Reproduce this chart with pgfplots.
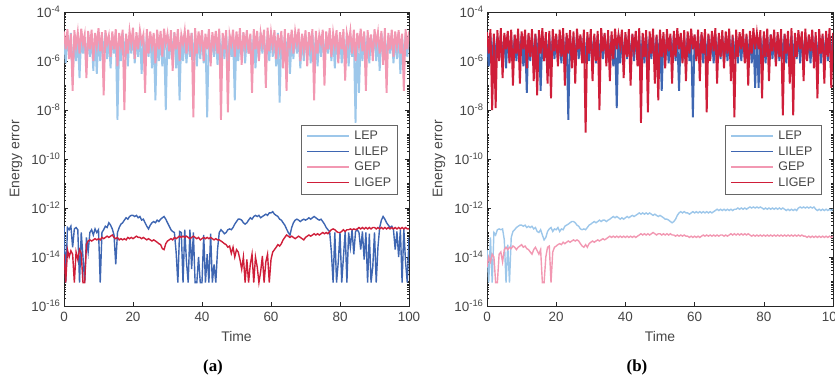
\documentclass[border=0pt]{standalone}
\usepackage{fontspec}
\setmainfont{Liberation Sans}
\newfontfamily\serifbf{Liberation Serif}
\usepackage{pgfplots}
\usepackage{pgfplotstable}
\pgfplotsset{compat=1.18}
\definecolor{cLEP}{RGB}{157,199,234}
\definecolor{cLILEP}{RGB}{62,102,178}
\definecolor{cGEP}{RGB}{242,152,178}
\definecolor{cLIGEP}{RGB}{207,30,57}
\definecolor{axgray}{RGB}{38,38,38}
\definecolor{txtgray}{RGB}{70,70,70}

\pgfplotstableread{
x lep lilep gep ligep
0 1.2e-5 1.8e-13 1.6e-5 1.3e-14
0.5 8e-7 9e-16 3e-6 9e-16
1 9e-6 1.6e-13 2.0e-5 2e-14
1.5 2e-6 1.3e-13 1.2e-6 1e-14
2 1.4e-5 1.8e-13 1.3e-5 1.8e-14
2.5 1.5e-7 2.5e-14 6e-8 1.3e-14
3 1e-5 1.4e-13 1.8e-5 9e-16
3.5 1e-6 1.6e-13 4e-6 1.6e-14
4 1.1e-5 1.3e-13 1.5e-5 7.9e-15
4.5 2e-7 9e-16 2e-6 2e-14
5 1.2e-5 1e-13 2.1e-5 1.4e-14
5.5 2e-6 1e-14 5e-6 9e-16
6 9e-6 9e-16 1.2e-5 9e-16
6.5 6e-7 6.3e-14 2e-7 3.2e-14
7 1.4e-5 1.6e-14 1.7e-5 4.5e-14
7.5 1.5e-6 1e-13 3e-6 5e-14
8 1e-5 1.3e-13 1.9e-5 4.5e-14
8.5 4e-7 7.9e-14 1e-6 5e-14
9 1.1e-5 1.4e-13 1.4e-5 5.6e-14
9.5 3e-7 1e-13 4e-6 5e-14
10 1.2e-5 1.3e-13 2.2e-5 5.6e-14
10.5 1e-6 9e-16 2.5e-6 5e-14
11 9e-6 1e-13 1.5e-5 6.3e-14
11.5 2e-6 1.3e-13 4e-8 5.6e-14
12 1.4e-5 1.8e-13 1.8e-5 6.3e-14
12.5 1.2e-6 1.6e-13 5e-6 7.1e-14
13 1e-5 2.5e-13 1.1e-5 6.3e-14
13.5 5e-7 2e-13 1.5e-6 7.1e-14
14 1.1e-5 1.4e-13 1.6e-5 7.9e-14
14.5 2e-6 7.9e-14 3e-6 6.3e-14
15 1.2e-5 5e-15 2.0e-5 5.6e-14
15.5 4e-9 1e-13 6e-7 6.3e-14
16 9e-6 1.6e-13 1.4e-5 5e-14
16.5 1e-6 2.2e-13 4e-6 5.6e-14
17 1.4e-5 2.5e-13 1.9e-5 5e-14
17.5 1.5e-6 3.2e-13 1e-8 5.6e-14
18 1e-5 4e-13 1.3e-5 5e-14
18.5 6e-7 3.5e-13 2e-6 6.3e-14
19 1.1e-5 4.5e-13 1.7e-5 5.6e-14
19.5 2e-6 5e-13 5e-6 6.3e-14
20 1.2e-5 5e-13 2.3e-5 5.6e-14
20.5 8e-7 4.5e-13 1.2e-6 6.3e-14
21 9e-6 5e-13 1.5e-5 7.1e-14
21.5 1.5e-6 4e-13 3e-6 6.3e-14
22 1.4e-5 4.5e-13 1.8e-5 6.3e-14
22.5 3e-7 3.2e-13 6e-6 5.6e-14
23 1e-5 3.5e-13 1.2e-5 6.3e-14
23.5 1e-6 2.5e-13 5e-8 5.6e-14
24 1.1e-5 1.8e-13 2.0e-5 5e-14
24.5 1.5e-6 1.4e-13 2e-6 5.6e-14
25 1.2e-5 2e-13 1.6e-5 5e-14
25.5 5e-7 2.5e-13 4e-6 4.5e-14
26 9e-6 2.8e-13 1.4e-5 5e-14
26.5 2.5e-8 2.5e-13 8e-7 4.5e-14
27 1.4e-5 3.2e-13 1.9e-5 4e-14
27.5 1e-6 2.8e-13 3e-6 3.5e-14
28 1e-5 3.5e-13 1.7e-5 3.2e-14
28.5 6e-7 4e-13 1.5e-6 2.2e-14
29 1.1e-5 4.5e-13 2.1e-5 2e-14
29.5 1e-8 3.5e-13 5e-6 3.5e-14
30 1.2e-5 2.5e-13 1.3e-5 4.5e-14
30.5 1.2e-6 1.8e-13 2.5e-6 5e-14
31 9e-6 1.3e-13 1.8e-5 5.6e-14
31.5 2e-6 1.1e-13 4e-7 5e-14
32 1.4e-5 1e-13 1.5e-5 6.3e-14
32.5 5e-7 1.6e-14 3e-6 5.6e-14
33 1e-5 9e-16 2.0e-5 6.3e-14
33.5 2.5e-8 1.1e-13 1e-6 7.1e-14
34 1.1e-5 1e-13 1.2e-5 6.3e-14
34.5 1e-6 9e-16 5e-6 7.1e-14
35 1.2e-5 1.3e-13 1.7e-5 6.3e-14
35.5 8e-7 6.3e-15 2e-6 7.1e-14
36 9e-6 9e-16 1.9e-5 6.3e-14
36.5 1.5e-6 1.3e-13 3.5e-6 5.6e-14
37 1.4e-5 3.2e-15 1.4e-5 6.3e-14
37.5 1e-6 1e-13 5e-9 7.1e-14
38 1e-5 9e-16 2.2e-5 6.3e-14
38.5 6e-7 9e-16 2e-6 5.6e-14
39 1.1e-5 1e-14 1.6e-5 6.3e-14
39.5 1.2e-6 9e-16 4e-6 5e-14
40 1.2e-5 9e-16 1.8e-5 5.6e-14
40.5 8e-7 7.9e-14 1e-6 6.3e-14
41 9e-6 9e-16 1.3e-5 5.6e-14
41.5 5e-9 1.3e-14 3e-6 6.3e-14
42 1.4e-5 9e-16 2.0e-5 5.6e-14
42.5 1e-6 8.9e-14 6e-7 6.3e-14
43 1e-5 9e-16 1.5e-5 5.6e-14
43.5 1.5e-6 5e-15 4e-6 5e-14
44 1.1e-5 9e-16 1.7e-5 5.6e-14
44.5 7e-7 2e-14 2e-6 5e-14
45 1.2e-5 1e-13 2.1e-5 5e-14
45.5 1e-6 1.3e-13 4e-9 4.5e-14
46 9e-6 1.1e-13 1.4e-5 4e-14
46.5 1.2e-6 8.9e-14 3e-6 3.5e-14
47 1.4e-5 1e-13 1.8e-5 3.2e-14
47.5 6e-7 1.3e-13 8e-9 2.5e-14
48 1e-5 1.4e-13 1.2e-5 2.8e-14
48.5 1.5e-6 1.3e-13 5e-6 1.4e-14
49 1.1e-5 1.6e-13 1.9e-5 2.5e-14
49.5 2.5e-8 2.2e-13 1.5e-6 1e-14
50 1.2e-5 2.8e-13 1.6e-5 2e-14
50.5 1e-6 3.5e-13 3e-6 1.6e-14
51 9e-6 3.5e-13 2.2e-5 7.9e-15
51.5 1.5e-6 3.2e-13 7e-7 3.2e-15
52 1.4e-5 2.5e-13 1.5e-5 1e-14
52.5 8e-7 2.2e-13 4e-6 9e-16
53 1e-5 2.5e-13 1.8e-5 7.9e-15
53.5 2e-6 3.2e-13 2e-6 9e-16
54 1.1e-5 4e-13 1.3e-5 5e-15
54.5 1e-6 3.5e-13 5e-8 1.3e-14
55 1.2e-5 4.5e-13 2.0e-5 9e-16
55.5 5e-7 5e-13 3e-6 1e-14
56 9e-6 4.5e-13 1.7e-5 4e-15
56.5 1.2e-6 5e-13 1e-6 9e-16
57 1.4e-5 4e-13 1.4e-5 2.5e-15
57.5 2e-6 4.5e-13 5e-6 1.1e-14
58 1e-5 5e-13 1.9e-5 9e-16
58.5 9e-7 5.6e-13 8e-8 6.3e-15
59 1.1e-5 5e-13 2.3e-5 1.3e-14
59.5 1e-6 6.3e-13 2.5e-6 9e-16
60 1.2e-5 6.3e-13 1.5e-5 7.9e-15
60.5 1.5e-6 7.1e-13 4e-6 1.6e-14
61 9e-6 5.6e-13 1.8e-5 2e-14
61.5 6e-7 5e-13 1.2e-6 2.5e-14
62 1.4e-5 4.5e-13 1.2e-5 3.2e-14
62.5 2e-8 3.5e-13 3e-6 2.8e-14
63 1e-5 3.2e-13 1.7e-5 3.5e-14
63.5 1e-6 2.5e-13 5e-7 5e-14
64 1.1e-5 2e-13 2.0e-5 6.3e-14
64.5 1.5e-6 1.4e-13 6e-8 7.9e-14
65 1.2e-5 1e-13 1.4e-5 7.1e-14
65.5 3e-7 7.9e-14 4e-6 6.3e-14
66 9e-6 1.6e-13 1.9e-5 7.1e-14
66.5 1.2e-6 2.5e-13 2e-6 6.3e-14
67 1.4e-5 3.2e-13 1.6e-5 5.6e-14
67.5 2e-6 3.5e-13 5e-6 6.3e-14
68 1e-5 3.2e-13 2.1e-5 7.1e-14
68.5 5e-7 2.8e-13 1e-6 6.3e-14
69 1.1e-5 3.2e-13 1.3e-5 5.6e-14
69.5 1e-6 3.5e-13 3e-6 5e-14
70 1.2e-5 3.2e-13 1.8e-5 6.3e-14
70.5 1.5e-6 3.5e-13 6e-7 7.1e-14
71 9e-6 4e-13 1.5e-5 7.9e-14
71.5 8e-7 3.5e-13 4e-6 7.1e-14
72 1.4e-5 4e-13 2.0e-5 7.9e-14
72.5 1e-6 4.5e-13 2.5e-8 8.9e-14
73 1e-5 4e-13 1.7e-5 7.9e-14
73.5 6e-7 3.5e-13 2e-6 8.9e-14
74 1.1e-5 3.2e-13 1.2e-5 7.9e-14
74.5 1.5e-6 3.5e-13 5e-6 8.9e-14
75 1.2e-5 2.8e-13 1.9e-5 1e-13
75.5 1e-6 2.2e-13 1e-7 8.9e-14
76 9e-6 1.6e-13 1.6e-5 1e-13
76.5 2e-6 1.3e-13 3e-6 8.9e-14
77 1.4e-5 1.1e-13 2.2e-5 1.1e-13
77.5 1e-6 1.6e-14 1.5e-6 1.3e-13
78 1e-5 9e-16 1.4e-5 1.4e-13
78.5 5e-7 1e-13 4e-6 1.3e-13
79 1.1e-5 9e-16 1.8e-5 1.1e-13
79.5 1.2e-6 6.3e-15 8e-7 1e-13
80 1.2e-5 1e-13 1.5e-5 1e-13
80.5 8e-7 9e-16 3e-6 1.1e-13
81 9e-6 1e-14 2.0e-5 1.3e-13
81.5 1e-6 1.1e-13 1.6e-7 1.1e-13
82 1.4e-5 9e-16 1.3e-5 1.3e-13
82.5 6e-7 1e-13 5e-6 1.3e-13
83 1e-5 2.5e-14 1.7e-5 1.4e-13
83.5 1.5e-6 1.3e-13 2e-6 1.3e-13
84 1.1e-5 1.3e-14 1.9e-5 1.4e-13
84.5 3e-9 1.1e-13 1e-6 1.3e-13
85 1.2e-5 1.3e-13 1.4e-5 1.4e-13
85.5 5e-8 1e-13 4e-6 1.6e-13
86 9e-6 2e-14 2.1e-5 1.4e-13
86.5 1e-6 1.1e-13 2.5e-6 1.6e-13
87 1.4e-5 7.9e-15 1.6e-5 1.4e-13
87.5 1.5e-6 1e-13 6e-8 1.6e-13
88 1e-5 9e-16 1.8e-5 1.4e-13
88.5 8e-7 8.9e-14 3e-6 1.6e-13
89 1.1e-5 9e-16 1.2e-5 1.4e-13
89.5 2e-6 4e-15 1e-6 1.6e-13
90 1.2e-5 1e-13 2.0e-5 1.6e-13
90.5 1e-6 9e-16 5e-6 1.4e-13
91 9e-6 2.5e-14 1.5e-5 1.6e-13
91.5 4e-7 1.6e-13 2e-6 1.4e-13
92 1.4e-5 3.2e-13 1.7e-5 1.6e-13
92.5 1.5e-6 4.5e-13 7e-7 1.4e-13
93 1e-5 3.5e-13 2.2e-5 1.6e-13
93.5 1e-6 2.5e-13 5e-8 1.4e-13
94 1.1e-5 2e-13 1.4e-5 1.6e-13
94.5 2e-6 1.6e-13 3e-6 1.4e-13
95 1.2e-5 1.8e-13 1.9e-5 1.6e-13
95.5 8e-7 1.3e-13 1.5e-6 1.4e-13
96 9e-6 2e-14 1.6e-5 1.6e-13
96.5 1.2e-6 1.1e-13 4e-6 1.4e-13
97 1.4e-5 1e-14 1.8e-5 1.6e-13
97.5 3e-7 1.3e-13 2e-6 1.4e-13
98 1e-5 9e-16 1.3e-5 1.6e-13
98.5 1e-6 1.4e-13 6e-8 1.4e-13
99 1.1e-5 6.3e-15 2.0e-5 1.6e-13
99.5 1.5e-6 9e-16 3e-6 1.4e-13
100 1.2e-5 6.3e-14 1.6e-5 1.4e-13
}\tabA

\pgfplotstableread{
x lep lilep gep ligep
0 2e-14 1.1e-5 4e-15 1.5e-5
0.5 9e-16 6e-7 1e-14 2e-6
1 6.3e-14 1e-5 6.3e-15 2.0e-5
1.5 9e-16 1e-6 1.3e-14 1e-8
2 1e-13 1.2e-5 1e-14 1.3e-5
2.5 7.9e-14 8e-7 9e-16 1.2e-8
3 1.3e-13 1e-5 9e-16 1.8e-5
3.5 1.4e-13 1.2e-6 1.3e-14 1e-6
4 1.3e-13 1.1e-5 1.6e-14 2.2e-5
4.5 1.4e-13 1e-6 6.3e-15 2e-7
5 5e-14 1e-5 2e-14 1.4e-5
5.5 9e-16 5e-7 2.5e-14 3e-6
6 3.2e-14 1.2e-5 2e-14 1.7e-5
6.5 9e-16 1e-6 2.5e-14 8e-7
7 6.3e-14 1e-5 2.2e-14 1.9e-5
7.5 1.1e-13 8e-7 2.8e-14 1e-7
8 1.3e-13 1.1e-5 2.5e-14 1.2e-5
8.5 1.6e-13 1e-6 2e-14 2e-6
9 1.8e-13 1e-5 2.5e-14 2.1e-5
9.5 2e-13 1.2e-6 2.8e-14 1.2e-7
10 2e-13 1.2e-5 3.2e-14 1.6e-5
10.5 1.8e-13 6e-7 2.5e-14 3e-6
11 2e-13 1e-5 2.8e-14 1.9e-5
11.5 1.6e-13 5e-8 2.2e-14 5e-7
12 1.8e-13 1.1e-5 2e-14 1.4e-5
12.5 1.6e-13 1e-6 1.6e-14 1.5e-6
13 1.8e-13 1e-5 1.3e-14 2.0e-5
13.5 1.4e-13 8e-7 2e-14 1.5e-7
14 1.6e-13 1.2e-5 2.5e-14 1.3e-5
14.5 1.1e-13 1.2e-6 1.8e-14 4e-8
15 1e-13 1e-5 1.3e-14 1.8e-5
15.5 1.3e-13 6e-8 2e-14 2e-6
16 7.9e-14 1.1e-5 9e-16 2.2e-5
16.5 5e-14 1e-6 9e-16 1e-6
17 6.3e-14 1e-5 1e-14 1.5e-5
17.5 1.1e-13 8e-7 2.5e-14 1.2e-7
18 1.4e-13 1.2e-5 2.8e-14 1.7e-5
18.5 1.6e-13 1e-6 9e-16 3e-8
19 1.1e-13 1e-5 1.6e-14 2.0e-5
19.5 1.4e-13 1.2e-6 2.5e-14 2.5e-6
20 1.3e-13 1.1e-5 2.8e-14 1.3e-5
20.5 1.6e-13 1e-6 3.2e-14 6e-7
21 1.1e-13 1e-5 3.5e-14 1.9e-5
21.5 1.4e-13 8e-7 3.2e-14 1.5e-6
22 1.3e-13 1.2e-5 4e-14 2.2e-5
22.5 1.8e-13 1e-6 3.5e-14 1e-7
23 2e-13 1e-5 4e-14 1.4e-5
23.5 2.2e-13 4e-9 4.5e-14 2e-6
24 2.5e-13 1.1e-5 4e-14 1.8e-5
24.5 2.8e-13 1e-6 4.5e-14 5e-7
25 2.8e-13 1e-5 5e-14 1.6e-5
25.5 2.5e-13 8e-7 4.5e-14 1.2e-7
26 2e-13 1.2e-5 5e-14 2.1e-5
26.5 1.8e-13 1.2e-6 4.5e-14 3e-6
27 1.4e-13 1e-5 3.5e-14 1.2e-5
27.5 1.3e-13 1e-6 2.8e-14 8e-7
28 1.4e-13 1.1e-5 2.5e-14 1.9e-5
28.5 1.3e-13 8e-7 3.2e-14 1.2e-9
29 1.6e-13 1e-5 2.5e-14 1.5e-5
29.5 2e-13 1e-6 3.5e-14 2e-6
30 2.2e-13 1.2e-5 4e-14 2.0e-5
30.5 2.5e-13 1.2e-6 4.5e-14 1.5e-7
31 2.8e-13 1e-5 4e-14 1.3e-5
31.5 2.5e-13 8e-7 4.5e-14 1e-6
32 2.8e-13 1.1e-5 5e-14 1.7e-5
32.5 3.2e-13 1e-6 4.5e-14 1e-8
33 2.8e-13 1e-5 5e-14 2.2e-5
33.5 3.2e-13 1.2e-6 5.6e-14 2.5e-6
34 3.2e-13 1.2e-5 5e-14 1.4e-5
34.5 2.8e-13 1e-6 5.6e-14 6e-7
35 3.2e-13 1e-5 6.3e-14 1.8e-5
35.5 3.5e-13 8e-7 7.1e-14 1.5e-7
36 4e-13 1.1e-5 6.3e-14 1.6e-5
36.5 4.5e-13 6e-7 7.1e-14 1.2e-6
37 4e-13 1e-5 6.3e-14 2.1e-5
37.5 4.5e-13 1.2e-8 7.1e-14 3e-6
38 4e-13 1.2e-5 6.3e-14 1.2e-5
38.5 3.5e-13 8e-7 7.1e-14 4e-6
39 4e-13 1e-5 6.3e-14 1.9e-5
39.5 3.5e-13 1e-6 7.1e-14 2e-7
40 4e-13 1.1e-5 6.3e-14 1.5e-5
40.5 4.5e-13 1.2e-6 7.1e-14 1.5e-6
41 4e-13 1e-5 6.3e-14 2.0e-5
41.5 4.5e-13 8e-7 7.1e-14 1e-7
42 5e-13 1.2e-5 6.3e-14 1.3e-5
42.5 4.5e-13 1e-6 7.1e-14 3e-6
43 5e-13 1e-5 6.3e-14 1.7e-5
43.5 5.6e-13 1.2e-6 7.1e-14 6e-7
44 6.3e-13 1.1e-5 7.9e-14 2.2e-5
44.5 5.6e-13 1e-6 8.9e-14 3e-9
45 6.3e-13 1e-5 7.9e-14 1.4e-5
45.5 5.6e-13 8e-7 8.9e-14 1.5e-6
46 6.3e-13 1.2e-5 7.9e-14 1.8e-5
46.5 5.6e-13 1e-6 8.9e-14 8e-9
47 6.3e-13 1e-5 7.9e-14 1.6e-5
47.5 5.6e-13 1.2e-6 8.9e-14 2e-6
48 5e-13 1.1e-5 1e-13 2.1e-5
48.5 5.6e-13 8e-7 8.9e-14 1.2e-7
49 5e-13 1e-5 7.9e-14 1.2e-5
49.5 4.5e-13 1e-6 8.9e-14 2.5e-8
50 5e-13 1.2e-5 8.9e-14 1.9e-5
50.5 4.5e-13 6e-8 7.9e-14 1.5e-6
51 4e-13 1e-5 8.9e-14 1.5e-5
51.5 3.5e-13 1e-6 7.9e-14 5e-7
52 3.5e-13 1.1e-5 8.9e-14 2.0e-5
52.5 3.2e-13 8e-7 7.9e-14 2.5e-6
53 2.8e-13 1e-5 8.9e-14 1.3e-5
53.5 2.5e-13 1.2e-6 7.9e-14 1.2e-7
54 2.8e-13 1.2e-5 7.9e-14 1.7e-5
54.5 3.5e-13 1e-6 7.1e-14 1.5e-6
55 5e-13 1e-5 7.9e-14 2.2e-5
55.5 6.3e-13 6e-8 7.1e-14 3e-6
56 7.1e-13 1.1e-5 7.9e-14 1.4e-5
56.5 6.3e-13 1e-6 7.1e-14 8e-7
57 7.1e-13 1e-5 7.9e-14 1.8e-5
57.5 6.3e-13 8e-7 7.1e-14 1.5e-7
58 6.3e-13 1.2e-5 7.1e-14 1.6e-5
58.5 5.6e-13 1e-6 6.3e-14 2e-6
59 6.3e-13 1e-5 7.1e-14 2.1e-5
59.5 7.1e-13 5e-9 6.3e-14 3e-6
60 6.3e-13 1.1e-5 7.1e-14 1.2e-5
60.5 7.1e-13 1.2e-6 6.3e-14 1e-6
61 6.3e-13 1e-5 7.1e-14 1.9e-5
61.5 7.1e-13 1e-6 6.3e-14 1.5e-7
62 6.3e-13 1.2e-5 7.1e-14 1.5e-5
62.5 7.1e-13 8e-7 7.9e-14 2e-6
63 6.3e-13 1e-5 7.1e-14 2.0e-5
63.5 7.1e-13 1e-6 7.9e-14 8e-9
64 6.3e-13 1.1e-5 7.1e-14 1.3e-5
64.5 7.1e-13 1.2e-6 7.9e-14 1e-6
65 6.3e-13 1e-5 7.1e-14 1.7e-5
65.5 7.1e-13 8e-7 7.9e-14 2.5e-6
66 7.9e-13 1.2e-5 7.1e-14 2.2e-5
66.5 8.9e-13 1e-6 7.9e-14 1.2e-7
67 7.9e-13 1e-5 7.1e-14 1.4e-5
67.5 8.9e-13 1.2e-6 7.9e-14 1.5e-6
68 7.9e-13 1.1e-5 7.9e-14 1.8e-5
68.5 8.9e-13 8e-7 7.1e-14 5e-7
69 7.9e-13 1e-5 7.9e-14 1.6e-5
69.5 8.9e-13 1e-6 7.1e-14 2e-6
70 7.9e-13 1.2e-5 7.9e-14 2.1e-5
70.5 8.9e-13 1e-6 8.9e-14 1.5e-7
71 7.9e-13 1e-5 7.9e-14 1.2e-5
71.5 8.9e-13 1.2e-6 8.9e-14 5e-9
72 8.9e-13 1.1e-5 7.9e-14 1.9e-5
72.5 1e-12 8e-7 8.9e-14 1.5e-6
73 8.9e-13 1e-5 7.9e-14 1.5e-5
73.5 1e-12 1e-6 8.9e-14 3e-6
74 8.9e-13 1.2e-5 7.9e-14 2.0e-5
74.5 1e-12 1.2e-6 8.9e-14 8e-7
75 8.9e-13 1e-5 7.9e-14 1.3e-5
75.5 1e-12 1e-6 8.9e-14 1e-7
76 1.1e-12 1.1e-5 7.9e-14 1.7e-5
76.5 1e-12 8e-7 7.1e-14 2e-6
77 1.1e-12 1e-5 7.9e-14 2.2e-5
77.5 1e-12 8e-8 7.1e-14 3e-6
78 1.1e-12 1.2e-5 7.9e-14 1.4e-5
78.5 1e-12 8e-8 7.1e-14 3e-6
79 1.1e-12 1e-5 7.9e-14 1.8e-5
79.5 1e-12 1e-6 7.1e-14 3e-8
80 8.9e-13 1.1e-5 7.9e-14 1.6e-5
80.5 1e-12 8e-7 7.1e-14 1.5e-6
81 8.9e-13 1e-5 7.9e-14 2.1e-5
81.5 1e-12 1e-6 7.1e-14 1.5e-7
82 8.9e-13 1.2e-5 7.9e-14 1.2e-5
82.5 1e-12 1.2e-6 7.1e-14 2.5e-6
83 8.9e-13 1e-5 7.9e-14 1.9e-5
83.5 1e-12 8e-7 7.1e-14 6e-7
84 8.9e-13 1.1e-5 7.9e-14 1.5e-5
84.5 1e-12 1e-6 7.1e-14 1.5e-6
85 8.9e-13 1e-5 7.9e-14 2.0e-5
85.5 1e-12 1.2e-6 7.1e-14 6e-9
86 8.9e-13 1.2e-5 7.9e-14 1.3e-5
86.5 7.9e-13 8e-7 7.1e-14 2e-6
87 8.9e-13 1e-5 7.9e-14 1.7e-5
87.5 7.9e-13 1e-6 7.1e-14 1.2e-7
88 8.9e-13 1.1e-5 7.9e-14 2.2e-5
88.5 7.9e-13 1e-6 7.1e-14 6e-9
89 8.9e-13 1e-5 7.9e-14 1.4e-5
89.5 7.9e-13 1.2e-6 7.1e-14 1.5e-6
90 1e-12 1.2e-5 7.9e-14 1.8e-5
90.5 1.1e-12 8e-7 7.1e-14 3e-6
91 1e-12 1e-5 7.9e-14 1.6e-5
91.5 1.1e-12 1e-6 7.1e-14 1.5e-7
92 1e-12 1.1e-5 7.1e-14 2.1e-5
92.5 1.1e-12 1.2e-6 6.3e-14 1e-6
93 1e-12 1e-5 7.1e-14 1.2e-5
93.5 1.1e-12 8e-7 6.3e-14 2.5e-6
94 1e-12 1.2e-5 7.1e-14 1.9e-5
94.5 1.1e-12 1e-6 6.3e-14 5e-7
95 8.9e-13 1e-5 7.1e-14 1.5e-5
95.5 7.9e-13 1e-6 6.3e-14 3e-8
96 8.9e-13 1.1e-5 7.1e-14 2.0e-5
96.5 7.9e-13 8e-7 6.3e-14 2e-6
97 8.9e-13 1e-5 7.1e-14 1.3e-5
97.5 7.9e-13 1.2e-6 6.3e-14 1.2e-7
98 8.9e-13 1.2e-5 7.1e-14 1.7e-5
98.5 7.9e-13 1e-6 6.3e-14 1.5e-6
99 8.9e-13 1e-5 7.1e-14 2.2e-5
99.5 7.9e-13 1e-6 6.3e-14 8e-8
100 8.9e-13 1.1e-5 7.1e-14 1.4e-5
}\tabB

\def\myminor{}
\foreach \e in {-16,...,-5}{\foreach \m in {1,...,9}{\xdef\myminor{\myminor\m e\e,}}}
\xdef\myminor{\myminor 1e-4}
\newcommand\tickfont{\fontsize{13.5}{16}\selectfont}
\newcommand\labfont{\fontsize{14}{16.5}\selectfont}
\newcommand\legfont{\fontsize{12.5}{15.6}\selectfont}
\newcommand\legline[1]{\textcolor{#1}{\rule[2.9bp]{42bp}{1.6bp}}}
\newcommand\mylegend{%
  \begin{tabular}{@{}l@{\hspace{5bp}}l@{}}
  \legline{cLEP} & LEP\\
  \legline{cLILEP} & LILEP\\
  \legline{cGEP} & GEP\\
  \legline{cLIGEP} & LIGEP
  \end{tabular}}
\tikzset{
  legbox/.style={draw=black!60, line width=0.7bp, fill=white, anchor=north east,
    inner xsep=6.5bp, inner ysep=3.5bp, font=\legfont, text=txtgray},
}
\pgfplotsset{
  every axis/.append style={
    scale only axis, height=294bp,
    xmin=0, xmax=100,
    xtick={0,20,40,60,80,100},
    tick align=inside, tick pos=both,
    major tick length=4bp, minor tick length=2.2bp,
    axis line style={axgray, line width=0.6bp},
    every tick/.style={axgray, line width=0.5bp},
    every minor tick/.style={axgray, line width=0.4bp},
    /pgf/number format/assume math mode=true,
    tick label style={font=\tickfont, text=txtgray},
    xticklabel style={yshift=-3bp},
    label style={font=\labfont, text=txtgray},
    xlabel style={at={(axis description cs:0.5,-0.105)}, anchor=center},
    ylabel style={at={(axis description cs:-0.139,0.5)}, anchor=center},
  },
  every axis plot/.append style={line width=1.4bp},
}

\begin{document}%
\begin{tikzpicture}
\useasboundingbox (0bp,0bp) rectangle (835bp,383bp);
\begin{axis}[width=345bp, at={(64bp,77bp)}, anchor=south west,
  ymode=log, ymin=1e-16, ymax=1e-4,
  ytick={1e-16,1e-14,1e-12,1e-10,1e-8,1e-6,1e-4},
  yticklabels={10\textsuperscript{-16},10\textsuperscript{-14},10\textsuperscript{-12},10\textsuperscript{-10},10\textsuperscript{-8},10\textsuperscript{-6},10\textsuperscript{-4}},
  minor ytick/.expanded={\myminor},
  xlabel={Time}, ylabel={Energy error}]
\addplot[draw=cLEP, line width=1.9bp] table[x=x,y=lep]{\tabA};
\addplot[draw=cLILEP] table[x=x,y=lilep]{\tabA};
\addplot[draw=cGEP, line width=1.9bp] table[x=x,y=gep]{\tabA};
\addplot[draw=cLIGEP] table[x=x,y=ligep]{\tabA};
\node[legbox] at (axis description cs:0.968,0.616) {\mylegend};
\end{axis}
\begin{axis}[width=346bp, at={(487bp,77bp)}, anchor=south west,
  ymode=log, ymin=1e-16, ymax=1e-4,
  ytick={1e-16,1e-14,1e-12,1e-10,1e-8,1e-6,1e-4},
  yticklabels={10\textsuperscript{-16},10\textsuperscript{-14},10\textsuperscript{-12},10\textsuperscript{-10},10\textsuperscript{-8},10\textsuperscript{-6},10\textsuperscript{-4}},
  minor ytick/.expanded={\myminor},
  xlabel={Time}, ylabel={Energy error}]
\addplot[draw=cLEP] table[x=x,y=lep]{\tabB};
\addplot[draw=cLILEP, line width=1.9bp] table[x=x,y=lilep]{\tabB};
\addplot[draw=cGEP] table[x=x,y=gep]{\tabB};
\addplot[draw=cLIGEP, line width=1.9bp] table[x=x,y=ligep]{\tabB};
\node[legbox] at (axis description cs:0.968,0.616) {\mylegend};
\end{axis}
\node[font=\serifbf\bfseries\fontsize{17}{20}\selectfont] at (213bp,16bp) {(a)};
\node[font=\serifbf\bfseries\fontsize{17}{20}\selectfont] at (637bp,16bp) {(b)};
\end{tikzpicture}%
\end{document}
